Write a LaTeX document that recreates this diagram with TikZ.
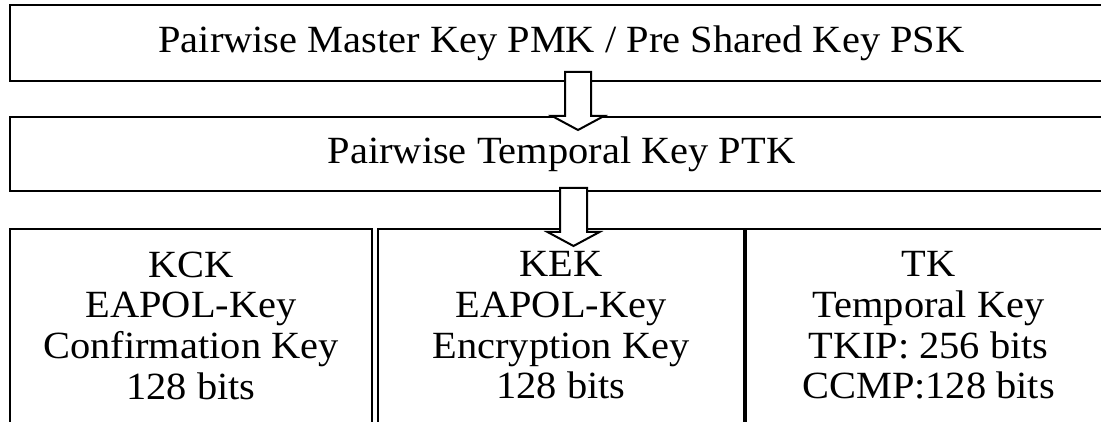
\documentclass[tikz,border=0pt]{standalone}
\usepackage{fontspec}
\setmainfont[FakeStretch=1.05]{Liberation Serif}
\begin{document}
\begin{tikzpicture}[x=1pt,y=-1pt,
  keybox/.style={draw=black, line width=2pt, inner sep=0pt, fill=white},
  keytext/.style={align=center, inner sep=0pt, font=\fontsize{38.5}{40.7}\selectfont},
  blockarrow/.style={draw=black, line width=2pt, fill=white, line join=miter}]
\useasboundingbox (0,0) rectangle (1101,422);
\clip (0,0) rectangle (1101,422);
\fill[white] (0,0) rectangle (1101,422);
% top boxes
\node[keybox, keytext, minimum width=1103pt, minimum height=76pt] (pmk) at (561.5,43) {Pairwise Master Key PMK / Pre Shared Key PSK};
\node[keybox, keytext, minimum width=1103pt, minimum height=74pt] (ptk) at (561.5,154) {Pairwise Temporal Key PTK};
% bottom boxes
\node[keybox, minimum width=362pt, minimum height=211pt] (kck) at (191,334.5) {};
\node[keybox, minimum width=365.5pt, minimum height=211pt] (kek) at (560.75,334.5) {};
\node[keybox, minimum width=367pt, minimum height=211pt] (tk) at (929.5,334.5) {};
% texts
\node[keytext] (kcktext) at (kck.center |- 0,325.5) {KCK\\EAPOL-Key\\Confirmation Key\\128 bits};
\node[keytext] (kektext) at (561,325.5) {KEK\\EAPOL-Key\\Encryption Key\\128 bits};
\node[keytext] (tktext) at (928.5,325.5) {TK\\Temporal Key\\TKIP: 256 bits\\CCMP:128 bits};
% block arrows
\coordinate (a1) at (578,72);
\coordinate (a2) at (573.5,188);
\draw[blockarrow] (a1) ++(-13,0) -- ++(26,0) -- ++(0,44) -- ++(13,0) -- ++(-26,14) -- ++(-26,-14) -- ++(13,0) -- cycle;
\draw[blockarrow] (a2) ++(-13.5,0) -- ++(27,0) -- ++(0,44) -- ++(12.5,0) -- ++(-26,14) -- ++(-26,-14) -- ++(12.5,0) -- cycle;
\end{tikzpicture}
\end{document}
